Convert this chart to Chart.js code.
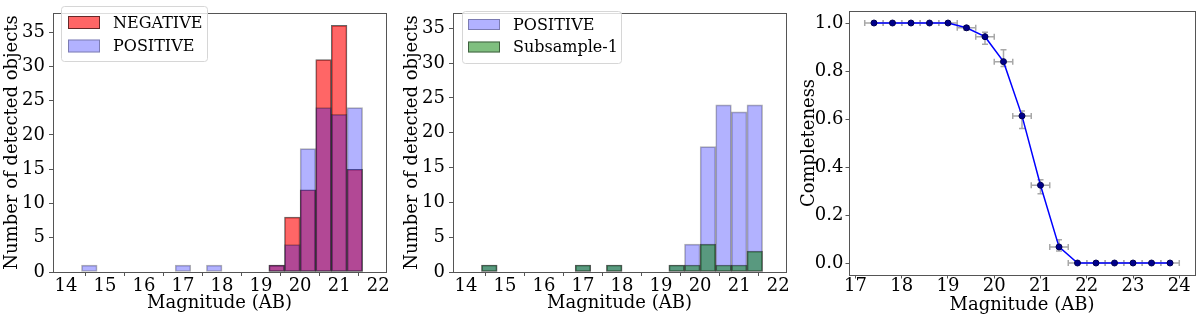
<!DOCTYPE html>
<html>
<head>
<meta charset="utf-8">
<script src="https://cdn.jsdelivr.net/npm/chart.js@4.4.0/dist/chart.umd.min.js"></script>
<style>
html, body { margin: 0; padding: 0; background: #fff; }
#wrap { position: relative; width: 1200px; height: 319px; overflow: hidden; }
canvas { position: absolute; top: 0; }
</style>
</head>
<body>
<div id="wrap">
  <canvas id="histNeg" width="400" height="319" style="left:0"></canvas>
  <canvas id="histSub" width="400" height="319" style="left:400px"></canvas>
  <canvas id="completeness" width="400" height="319" style="left:800px"></canvas>
</div>
<script>
// Histogram bins (centres, 0.4 mag wide)
const binCenters = [14.6, 15.0, 15.4, 15.8, 16.2, 16.6, 17.0, 17.4, 17.8, 18.2, 18.6, 19.0, 19.4, 19.8, 20.2, 20.6, 21.0, 21.4];
const negativeCounts = [0, 0, 0, 0, 0, 0, 0, 0, 0, 0, 0, 0, 1, 8, 12, 31, 36, 15];
const positiveCounts = [1, 0, 0, 0, 0, 0, 1, 0, 1, 0, 0, 0, 1, 4, 18, 24, 23, 24];
const subsampleCounts = [1, 0, 0, 0, 0, 0, 1, 0, 1, 0, 0, 0, 1, 1, 4, 1, 1, 3];
const histXTicks = [14, 15, 16, 17, 18, 19, 20, 21, 22];
const histYTicks = [0, 5, 10, 15, 20, 25, 30, 35];

// Completeness curve
const compMag = [17.4, 17.8, 18.2, 18.6, 19.0, 19.4, 19.8, 20.2, 20.6, 21.0, 21.4, 21.8, 22.2, 22.6, 23.0, 23.4, 23.8];
const compValue = [1, 1, 1, 1, 1, 0.98, 0.943, 0.839, 0.613, 0.324, 0.067, 0, 0, 0, 0, 0, 0];
const compErrLow = [0, 0, 0, 0, 0, 0.01, 0.032, 0.02, 0.053, 0.035, 0.017, 0, 0, 0, 0, 0, 0];
const compErrHigh = [0, 0, 0, 0, 0, 0.008, 0.018, 0.05, 0.02, 0.023, 0.03, 0, 0, 0, 0, 0, 0];
const compMagErr = [0.2, 0.2, 0.2, 0.2, 0.2, 0.2, 0.2, 0.2, 0.2, 0.2, 0.2, 0.2, 0.2, 0.2, 0.2, 0.2, 0.2];
const compXTicks = [17, 18, 19, 20, 21, 22, 23, 24];
const compYTicks = [0, 0.2, 0.4, 0.6, 0.8, 1.0];

const serif = 'DejaVu Serif';
const axisColor = '#555';

// Kutu çerçevesi (üst ve sağ kenar dahil)
const framePlugin = {
    id: 'frame',
    afterDraw(chart) {
        const { ctx, chartArea: a } = chart;
        ctx.save();
        ctx.strokeStyle = axisColor;
        ctx.lineWidth = 1;
        ctx.strokeRect(Math.round(a.left) + 0.5, Math.round(a.top) + 0.5, Math.round(a.right - a.left), Math.round(a.bottom - a.top));
        ctx.restore();
    }
};

// Matplotlib tarzı lejant
const boxLegendPlugin = {
    id: 'boxLegend',
    afterDraw(chart, args, opts) {
        if (!opts || !opts.items) return;
        const ctx = chart.ctx;
        ctx.save();
        ctx.beginPath();
        ctx.roundRect(opts.x + 0.5, opts.y + 0.5, opts.w, opts.h, 3);
        ctx.fillStyle = 'rgba(255,255,255,0.8)';
        ctx.fill();
        ctx.strokeStyle = '#d6d6d6';
        ctx.lineWidth = 1;
        ctx.stroke();
        ctx.font = '16px ' + serif;
        ctx.textBaseline = 'middle';
        opts.items.forEach((it, i) => {
            const cy = opts.rowY[i];
            ctx.fillStyle = it.fill;
            ctx.fillRect(opts.patchX, cy - opts.patchH / 2, opts.patchW, opts.patchH);
            ctx.strokeStyle = it.edge;
            ctx.strokeRect(opts.patchX + 0.5, cy - opts.patchH / 2 + 0.5, opts.patchW - 1, opts.patchH - 1);
            ctx.fillStyle = '#000';
            ctx.fillText(it.label, opts.textX, cy + 1);
        });
        ctx.restore();
    }
};

// Hata çubukları
const errorBarPlugin = {
    id: 'errorBars',
    beforeDatasetsDraw(chart) {
        const { ctx, scales: { x, y } } = chart;
        const cap = 3;
        ctx.save();
        ctx.strokeStyle = '#a8a8a8';
        ctx.lineWidth = 1.5;
        compMag.forEach((m, i) => {
            const px = x.getPixelForValue(m);
            const py = y.getPixelForValue(compValue[i]);
            const x0 = x.getPixelForValue(m - compMagErr[i]);
            const x1 = x.getPixelForValue(m + compMagErr[i]);
            ctx.beginPath();
            ctx.moveTo(x0, py); ctx.lineTo(x1, py);
            ctx.moveTo(x0, py - cap); ctx.lineTo(x0, py + cap);
            ctx.moveTo(x1, py - cap); ctx.lineTo(x1, py + cap);
            if (compErrLow[i] > 0 || compErrHigh[i] > 0) {
                const y0 = y.getPixelForValue(compValue[i] - compErrLow[i]);
                const y1 = y.getPixelForValue(compValue[i] + compErrHigh[i]);
                ctx.moveTo(px, y0); ctx.lineTo(px, y1);
                ctx.moveTo(px - cap, y0); ctx.lineTo(px + cap, y0);
                ctx.moveTo(px - cap, y1); ctx.lineTo(px + cap, y1);
            }
            ctx.stroke();
        });
        ctx.restore();
    }
};

function tickFont() { return { family: serif, size: 18, lineHeight: 1 }; }
function titleFont() { return { family: serif, size: 18, lineHeight: 1 }; }

function axisGrid(len) {
    return { display: true, drawOnChartArea: false, drawTicks: true, tickLength: len, tickWidth: 1, tickColor: axisColor, color: axisColor };
}

function histDataset(label, counts, fill, edge, order) {
    return {
        label: label,
        data: binCenters.map((c, i) => ({ x: c, y: counts[i] > 0 ? counts[i] : null })),
        backgroundColor: fill,
        borderColor: edge,
        borderWidth: 1,
        borderSkipped: false,
        order: order
    };
}

function histChart(id, datasets, yMax, legend) {
    return new Chart(document.getElementById(id), {
        type: 'bar',
        data: { datasets: datasets },
        options: {
            responsive: false,
            animation: false,
            events: [],
            layout: { padding: { top: 3, right: 14, left: 0, bottom: 0 } },
            datasets: { bar: { grouped: false, barPercentage: 1, categoryPercentage: 1 } },
            plugins: { legend: { display: false }, tooltip: { enabled: false }, boxLegend: legend },
            scales: {
                x: {
                    type: 'linear', min: 13.67, max: 22.2, offset: false,
                    afterBuildTicks: s => { s.ticks = histXTicks.map(v => ({ value: v })); },
                    afterFit: s => { s.height = 47; },
                    grid: axisGrid(4),
                    border: { display: true, color: axisColor },
                    ticks: { font: tickFont(), color: '#000', padding: 1, maxRotation: 0 },
                    title: { display: true, text: 'Magnitude (AB)', font: titleFont(), color: '#000', padding: { bottom: 7 } }
                },
                y: {
                    min: 0, max: yMax,
                    afterBuildTicks: s => { s.ticks = histYTicks.map(v => ({ value: v })); },
                    afterFit: s => { s.width = 53; },
                    grid: axisGrid(4),
                    border: { display: true, color: axisColor },
                    ticks: { font: tickFont(), color: '#000', padding: 4 },
                    title: { display: true, text: 'Number of detected objects', font: titleFont(), color: '#000', padding: { top: 3 } }
                }
            }
        },
        plugins: [framePlugin, boxLegendPlugin]
    });
}

const redFill = 'rgba(255,0,0,0.6)', redEdge = 'rgba(0,0,0,0.6)';
const blueFill = 'rgba(0,0,255,0.3)', blueEdge = 'rgba(0,0,0,0.3)';
const greenFill = 'rgba(0,128,0,0.5)', greenEdge = 'rgba(0,0,0,0.5)';

histChart('histNeg', [
    histDataset('NEGATIVE', negativeCounts, redFill, redEdge, 2),
    histDataset('POSITIVE', positiveCounts, blueFill, blueEdge, 1)
], 37.8, {
    x: 61, y: 6, w: 146, h: 55, patchX: 68, patchW: 32, patchH: 13, textX: 113, rowY: [22.5, 46],
    items: [
        { label: 'NEGATIVE', fill: redFill, edge: redEdge },
        { label: 'POSITIVE', fill: blueFill, edge: blueEdge }
    ]
});

histChart('histSub', [
    histDataset('POSITIVE', positiveCounts, blueFill, blueEdge, 2),
    histDataset('Subsample-1', subsampleCounts, greenFill, greenEdge, 1)
], 37.2, {
    x: 62, y: 11, w: 159, h: 52, patchX: 68, patchW: 32, patchH: 11, textX: 113, rowY: [24.5, 47],
    items: [
        { label: 'POSITIVE', fill: blueFill, edge: blueEdge },
        { label: 'Subsample-1', fill: greenFill, edge: greenEdge }
    ]
});

new Chart(document.getElementById('completeness'), {
    type: 'line',
    data: {
        datasets: [{
            label: 'Completeness',
            data: compMag.map((m, i) => ({ x: m, y: compValue[i] })),
            borderColor: '#0000ff',
            borderWidth: 1.5,
            pointRadius: 3,
            pointBackgroundColor: '#00008b',
            pointBorderColor: '#000050',
            pointBorderWidth: 1,
            tension: 0,
            fill: false
        }]
    },
    options: {
        responsive: false,
        animation: false,
        events: [],
        layout: { padding: { top: 3, right: 2, left: 0, bottom: 0 } },
        plugins: { legend: { display: false }, tooltip: { enabled: false } },
        scales: {
            x: {
                type: 'linear', min: 16.86, max: 24.34,
                afterBuildTicks: s => { s.ticks = compXTicks.map(v => ({ value: v })); },
                afterFit: s => { s.height = 44; },
                grid: axisGrid(3.5),
                border: { display: true, color: axisColor },
                ticks: { font: tickFont(), color: '#000', padding: -1.5, maxRotation: 0 },
                title: { display: true, text: 'Magnitude (AB)', font: titleFont(), color: '#000', padding: { bottom: 5 } }
            },
            y: {
                min: -0.05, max: 1.05,
                afterBuildTicks: s => { s.ticks = compYTicks.map(v => ({ value: v })); },
                afterFit: s => { s.width = 49; },
                grid: axisGrid(3.5),
                border: { display: true, color: axisColor },
                ticks: { font: tickFont(), color: '#000', padding: 2, callback: v => v.toFixed(1) },
                title: { display: true, text: 'Completeness', font: titleFont(), color: '#000', padding: { top: 0 } }
            }
        }
    },
    plugins: [framePlugin, errorBarPlugin]
});
</script>
</body>
</html>
